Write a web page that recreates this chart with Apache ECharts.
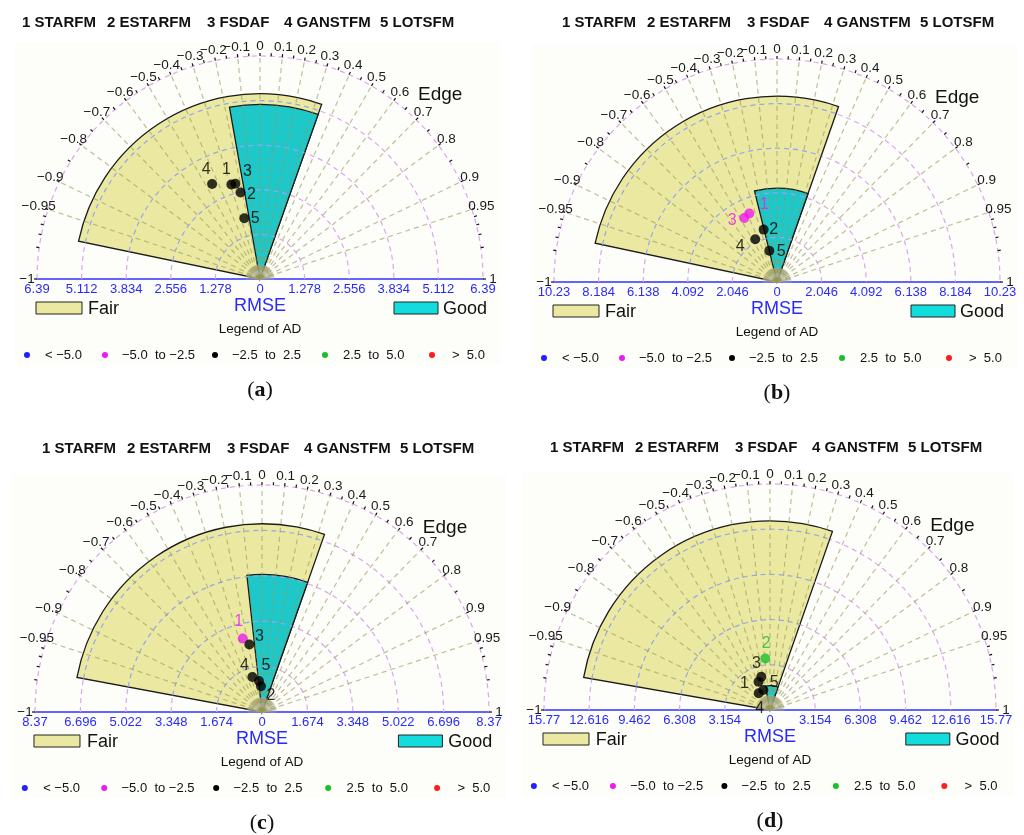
<!DOCTYPE html>
<html>
<head>
<meta charset="utf-8">
<title>APA diagrams</title>
<script src="https://cdn.jsdelivr.net/npm/echarts@6.0.0/dist/echarts.min.js"></script>
<style>
  html, body { margin: 0; padding: 0; background: #fff; }
  #chart { width: 1024px; height: 835px; }
</style>
</head>
<body>
<div id="chart"></div>
<script>
// methods, numbered 1..5 in every panel
var methods = ['STARFM', 'ESTARFM', 'FSDAF', 'GANSTFM', 'LOTSFM'];

// Edge (angular axis) tick labels and minor ticks
var edgeLabels = [-1, -0.95, -0.9, -0.8, -0.7, -0.6, -0.5, -0.4, -0.3, -0.2, -0.1, 0,
  0.1, 0.2, 0.3, 0.4, 0.5, 0.6, 0.7, 0.8, 0.9, 0.95, 1];
var edgeMinor = [-0.99, -0.98, -0.97, -0.96, -0.85, -0.75, -0.65, -0.55, -0.45, -0.35, -0.25,
  -0.15, -0.05, 0.05, 0.15, 0.25, 0.35, 0.45, 0.55, 0.65, 0.75, 0.85, 0.96, 0.97, 0.98, 0.99];

// legend of AD
var adClasses = ['< \u22125.0', '\u22125.0  to \u22122.5', '\u22122.5  to  2.5', '2.5  to  5.0', '>  5.0'];
var adColors = ['#1f1fff', '#ee1bee', '#000000', '#1cbf2a', '#ff1c1c'];

// RMSE axis of each panel (a, b, c, d)
var rmseMax = [6.39, 10.23, 8.37, 15.77];
var rmseStep = [1.278, 2.046, 1.674, 3.154];

// scores, order = methods
var rmseA = [2.83, 2.54, 2.82, 3.05, 1.80];
var edgeA = [-0.29, -0.22, -0.25, -0.45, -0.25];
var adA = [2, 2, 2, 2, 2];

var rmseB = [3.39, 2.48, 3.30, 2.20, 1.48];
var edgeB = [-0.375, -0.247, -0.455, -0.454, -0.239];
var adB = [1, 2, 1, 2, 2];

var rmseC = [2.80, 0.95, 2.53, 1.34, 1.15];
var edgeC = [-0.254, -0.04, -0.184, -0.265, -0.096];
var adC = [1, 2, 2, 2, 2];

var rmseD = [2.13, 3.61, 2.40, 1.41, 1.47];
var edgeD = [-0.375, -0.091, -0.252, -0.56, -0.317];
var adD = [2, 3, 2, 2, 2];

// zones: [edge from, edge to, rmse up to]
var fairZone = [[-0.979, 0.333, 5.31], [-0.978, 0.331, 8.53], [-0.983, 0.332, 6.94], [-0.985, 0.33, 13.2]];
var goodZone = [[-0.175, 0.333, 5.0], [-0.24, 0.331, 4.3], [-0.11, 0.332, 5.07], [-0.19, 0.33, 1.7]];

var rmseAll = [rmseA, rmseB, rmseC, rmseD];
var edgeAll = [edgeA, edgeB, edgeC, edgeD];
var adAll = [adA, adB, adC, adD];

// layout
var panels = [
  { key: 'a', cx: 260, cy: 279, R: 223, titleX: 22, titleY: 23 },
  { key: 'b', cx: 777, cy: 282, R: 223, titleX: 562, titleY: 23 },
  { key: 'c', cx: 262, cy: 712, R: 227, titleX: 42, titleY: 449 },
  { key: 'd', cx: 770, cy: 710, R: 226, titleX: 550, titleY: 448 }
];
var titleOffsets = [0, 85, 185, 262, 358];
var labelOffsets = [
  [[-5, -15], [11, 2], [12, -12], [-6, -14], [11, 0]],
  [[15, -9], [10, 0], [-12, 3], [-15, 7], [12, 1]],
  [[-4, -17], [10, 9], [10, -8], [-8, -11], [7, -15]],
  [[-14, 2], [1, -15], [-5, -13], [1, 15], [11, -7]]
];

var SANS = '"Liberation Sans", Arial, sans-serif';
var FAIR = '#ebe9a1';
var GOOD = '#1fc8c8';
var BLUE = '#2a2aff';

function ang(e) { return Math.acos(e) * 180 / Math.PI; }
function fmtEdge(e) { return e === 0 ? '0' : (e < 0 ? '\u2212' : '') + Math.abs(e); }

var myChart = echarts.init(document.getElementById('chart'));

var polar = [], angleAxis = [], radiusAxis = [], grid = [], xAxis = [], yAxis = [], series = [], graphic = [];

panels.forEach(function (p, i) {
  var max = rmseMax[i], step = rmseStep[i];
  var fair = fairZone[i], good = goodZone[i];

  polar.push({ center: [p.cx, p.cy], radius: p.R });
  angleAxis.push({ polarIndex: i, type: 'value', min: 0, max: 360, startAngle: 0, clockwise: false, show: false });
  radiusAxis.push({ polarIndex: i, type: 'value', min: 0, max: max, show: false });

  // bottom RMSE axis
  grid.push({ left: p.cx - p.R, width: 2 * p.R, top: p.cy - 10, height: 10 });
  xAxis.push({
    gridIndex: i, type: 'value', min: -max, max: max, interval: step,
    axisLine: { show: true, onZero: false, lineStyle: { color: '#3030ff', width: 1.6 } },
    axisTick: { show: false }, splitLine: { show: false },
    axisLabel: {
      color: BLUE, fontSize: 13, fontFamily: SANS, margin: 4,
      formatter: function (v) { return String(+Math.abs(v).toFixed(3)); }
    },
    name: 'RMSE', nameLocation: 'middle', nameGap: 16,
    nameTextStyle: { color: BLUE, fontSize: 18, fontFamily: SANS }
  });
  yAxis.push({ gridIndex: i, show: false, min: 0, max: 1 });

  // diagram frame: grid arcs, zones, spokes, ticks, labels
  series.push({
    type: 'custom', coordinateSystem: 'polar', polarIndex: i, silent: true, z: 1,
    data: [[0, 0]],
    renderItem: function (params, api) {
      var c = api.coord([0, 0]);
      var px = function (r) { var q = api.coord([r, 90]); return Math.abs(c[1] - q[1]); };
      var pt = function (r, e) { return api.coord([r, ang(e)]); };
      var ca = function (e) { return -Math.acos(e); };
      var R = px(max);
      var kids = [];
      var k;
      for (k = 1; k * step <= max + 1e-9; k++) {
        kids.push({ type: 'arc', shape: { cx: c[0], cy: c[1], r: px(k * step), startAngle: -Math.PI, endAngle: 0, clockwise: true },
          style: { stroke: '#dda5ee', fill: null, lineWidth: 1.2, lineDash: [5, 4] } });
      }
      kids.push({ type: 'sector', shape: { cx: c[0], cy: c[1], r0: 0, r: px(fair[2]), startAngle: ca(fair[0]), endAngle: ca(fair[1]), clockwise: true },
        style: { fill: FAIR, stroke: '#1a1a1a', lineWidth: 1.3 } });
      kids.push({ type: 'sector', shape: { cx: c[0], cy: c[1], r0: 0, r: px(good[2]), startAngle: ca(good[0]), endAngle: ca(good[1]), clockwise: true },
        style: { fill: GOOD, stroke: '#1a1a1a', lineWidth: 1.3 } });
      for (k = 1; k * step < fair[2]; k++) {
        kids.push({ type: 'arc', shape: { cx: c[0], cy: c[1], r: px(k * step), startAngle: ca(fair[0]), endAngle: ca(fair[1]), clockwise: true },
          style: { stroke: '#93a6ee', fill: null, lineWidth: 1.2, lineDash: [5, 4] } });
      }
      edgeLabels.concat(edgeMinor).forEach(function (e) {
        var q = pt(max * 0.065, e);
        kids.push({ type: 'line', shape: { x1: c[0], y1: c[1], x2: q[0], y2: q[1] },
          style: { stroke: 'rgba(175,175,140,0.45)', lineWidth: 1.4 } });
      });
      edgeLabels.forEach(function (e) {
        if (Math.abs(e) === 1) return;
        var q = pt(max, e);
        kids.push({ type: 'line', shape: { x1: c[0], y1: c[1], x2: q[0], y2: q[1] },
          style: { stroke: 'rgba(150,150,90,0.6)', lineWidth: 1.2, lineDash: [5, 4] } });
      });
      edgeLabels.concat(edgeMinor).forEach(function (e) {
        var q = pt(max, e);
        var ux = (q[0] - c[0]) / R, uy = (q[1] - c[1]) / R;
        kids.push({ type: 'line', shape: { x1: q[0], y1: q[1], x2: q[0] + ux * 3, y2: q[1] + uy * 3 },
          style: { stroke: '#111', lineWidth: 1.2 } });
      });
      edgeLabels.forEach(function (e) {
        var q = pt(max, e);
        var ux = (q[0] - c[0]) / R, uy = (q[1] - c[1]) / R;
        kids.push({ type: 'text', x: q[0] + ux * 10, y: q[1] + uy * 10,
          style: { text: fmtEdge(e), font: '13.5px ' + SANS, fill: '#1a1a1a',
            align: 'center', verticalAlign: 'middle', textAlign: 'center', textVerticalAlign: 'middle' } });
      });
      return { type: 'group', children: kids };
    }
  });

  // the five methods
  series.push({
    type: 'scatter', coordinateSystem: 'polar', polarIndex: i, z: 5,
    symbol: 'circle', symbolSize: 10,
    label: { show: true, position: 'inside', formatter: '{b}', fontSize: 16, fontFamily: SANS },
    data: methods.map(function (m, j) {
      var col = adColors[adAll[i][j]];
      return {
        name: String(j + 1),
        value: [rmseAll[i][j], ang(edgeAll[i][j])],
        itemStyle: { color: col },
        label: { color: col, offset: labelOffsets[i][j] }
      };
    })
  });

  // panel texts and legends
  var s = p.R / 223;
  graphic.push({ type: 'rect', z: -10, silent: true, shape: { x: p.cx - 245 * s, y: p.cy - 237, width: 485 * s, height: 323 },
    style: { fill: '#fdfdf9' } });
  methods.forEach(function (m, j) {
    graphic.push({ type: 'text', x: p.titleX + titleOffsets[j], y: p.titleY,
      style: { text: (j + 1) + ' ' + m, font: 'bold 15px ' + SANS, fill: '#111',
        align: 'left', verticalAlign: 'middle', textAlign: 'left', textVerticalAlign: 'middle' } });
  });
  graphic.push({ type: 'text', x: p.cx + 158 * s, y: p.cy - 184,
    style: { text: 'Edge', font: '19px ' + SANS, fill: '#111', align: 'left', verticalAlign: 'middle', textAlign: 'left', textVerticalAlign: 'middle' } });
  graphic.push({ type: 'rect', shape: { x: p.cx - 224 * s, y: p.cy + 23, width: 46, height: 12 },
    style: { fill: FAIR, stroke: '#222', lineWidth: 1 } });
  graphic.push({ type: 'text', x: p.cx - 172 * s, y: p.cy + 30,
    style: { text: 'Fair', font: '18px ' + SANS, fill: '#111', align: 'left', verticalAlign: 'middle', textAlign: 'left', textVerticalAlign: 'middle' } });
  graphic.push({ type: 'rect', shape: { x: p.cx + 134 * s, y: p.cy + 23, width: 44, height: 12 },
    style: { fill: '#12dcdc', stroke: '#222', lineWidth: 1 } });
  graphic.push({ type: 'text', x: p.cx + 183 * s, y: p.cy + 30,
    style: { text: 'Good', font: '18px ' + SANS, fill: '#111', align: 'left', verticalAlign: 'middle', textAlign: 'left', textVerticalAlign: 'middle' } });
  graphic.push({ type: 'text', x: p.cx, y: p.cy + 50,
    style: { text: 'Legend of AD', font: '13.5px ' + SANS, fill: '#111', align: 'center', verticalAlign: 'middle', textAlign: 'center', textVerticalAlign: 'middle' } });
  var dotX = [-233, -155, -45, 65, 172], txtX = [-215, -138, -28, 83, 192];
  adClasses.forEach(function (t, j) {
    graphic.push({ type: 'circle', shape: { cx: p.cx + dotX[j] * s, cy: p.cy + 76, r: 3 }, style: { fill: adColors[j] } });
    graphic.push({ type: 'text', x: p.cx + txtX[j] * s, y: p.cy + 76,
      style: { text: t, font: '13px ' + SANS, fill: '#111', align: 'left', verticalAlign: 'middle', textAlign: 'left', textVerticalAlign: 'middle' } });
  });
  graphic.push({ type: 'text', x: p.cx, y: p.cy + 111,
    style: { text: '{n|(}{b|' + p.key + '}{n|)}', align: 'center', verticalAlign: 'middle', textAlign: 'center', textVerticalAlign: 'middle',
      rich: { n: { font: '22px "Liberation Serif", "Times New Roman", serif', fill: '#111' },
              b: { font: 'bold 22px "Liberation Serif", "Times New Roman", serif', fill: '#111' } } } });
});

var option = {
  animation: false,
  backgroundColor: '#ffffff',
  polar: polar,
  angleAxis: angleAxis,
  radiusAxis: radiusAxis,
  grid: grid,
  xAxis: xAxis,
  yAxis: yAxis,
  graphic: graphic,
  series: series
};

myChart.setOption(option);
</script>
</body>
</html>
